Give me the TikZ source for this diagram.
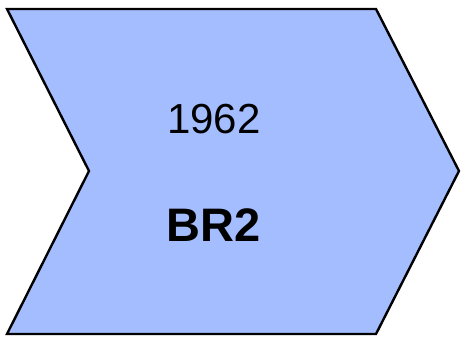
\documentclass[tikz,border=0pt]{standalone}
\usepackage{fontspec}
\setmainfont{Liberation Sans}
\definecolor{chevfill}{RGB}{163,189,255}
\begin{document}
\begin{tikzpicture}[x=1pt,y=-1pt,
  chev/.style={draw=black,line width=2.4pt,fill=chevfill,line join=miter},
  lbl/.style={inner sep=0pt,anchor=base}]
\useasboundingbox (0,0) rectangle (461,342);
\draw[chev] (7,9) -- (376,9) -- (459,171) -- (376,334) -- (7,334) -- (89,171) -- cycle;
\node[lbl,font=\fontsize{42}{50}\selectfont] (year) at (214,134) {1962};
\node[lbl,font=\fontsize{47}{56}\selectfont\bfseries] (name) at (213.5,242) {BR2};
\end{tikzpicture}
\end{document}
